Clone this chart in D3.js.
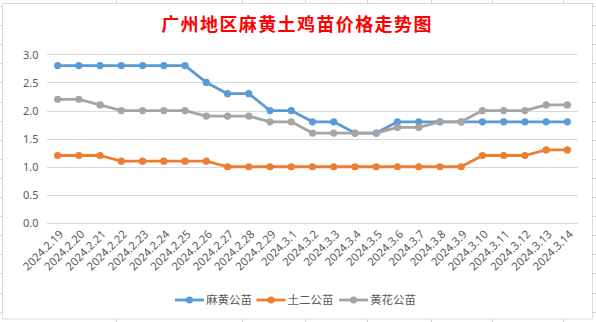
<!DOCTYPE html>
<html><head><meta charset="utf-8">
<script src="https://cdn.jsdelivr.net/npm/d3@7/dist/d3.min.js"></script>
<style>html,body{margin:0;padding:0;background:#fff;}svg{display:block;}</style>
</head><body><svg id="c" width="596" height="322"></svg>
<script>
const title = "广州地区麻黄土鸡苗价格走势图";
const dates = ["2024.2.19","2024.2.20","2024.2.21","2024.2.22","2024.2.23","2024.2.24","2024.2.25","2024.2.26","2024.2.27","2024.2.28","2024.2.29","2024.3.1","2024.3.2","2024.3.3","2024.3.4","2024.3.5","2024.3.6","2024.3.7","2024.3.8","2024.3.9","2024.3.10","2024.3.11","2024.3.12","2024.3.13","2024.3.14"];
const seriesNames = ["麻黄公苗","土二公苗","黄花公苗"];
const mahuang = [2.8,2.8,2.8,2.8,2.8,2.8,2.8,2.5,2.3,2.3,2.0,2.0,1.8,1.8,1.6,1.6,1.8,1.8,1.8,1.8,1.8,1.8,1.8,1.8,1.8];
const tuer = [1.2,1.2,1.2,1.1,1.1,1.1,1.1,1.1,1.0,1.0,1.0,1.0,1.0,1.0,1.0,1.0,1.0,1.0,1.0,1.0,1.2,1.2,1.2,1.3,1.3];
const huanghua = [2.2,2.2,2.1,2.0,2.0,2.0,2.0,1.9,1.9,1.9,1.8,1.8,1.6,1.6,1.6,1.6,1.7,1.7,1.8,1.8,2.0,2.0,2.0,2.1,2.1];
const yTicks = [0.0,0.5,1.0,1.5,2.0,2.5,3.0];
const colors = ["#5B9BD5","#ED7D31","#A5A5A5"];
const sheetCols = [116,241.5,305,366.5,430.5,492,563];

const svg = d3.select("#c");
const W = 596, H = 322;
const bg = svg.append("g");
const rowYs = d3.range(6, H, 19.1);
bg.selectAll("line.r").data(rowYs).join("line")
  .attr("x1",0).attr("x2",W).attr("y1",d=>Math.round(d)+0.5).attr("y2",d=>Math.round(d)+0.5)
  .attr("stroke","#d4d4d4");
bg.selectAll("line.c").data(sheetCols).join("line")
  .attr("y1",0).attr("y2",H).attr("x1",d=>Math.round(d)+0.5).attr("x2",d=>Math.round(d)+0.5)
  .attr("stroke","#d4d4d4");
svg.append("rect").attr("x",2.5).attr("y",3.5).attr("width",590).attr("height",315.5)
  .attr("fill","#fff").attr("stroke","#d9d9d9");

svg.append("text").attr("x",297).attr("y",31).attr("text-anchor","middle")
  .attr("font-family","'Noto Sans CJK SC'").attr("font-size",18).attr("font-weight","bold")
  .attr("letter-spacing",1.4).attr("fill","#ff0000").text(title);

const x = d3.scalePoint().domain(dates).range([47,578]).padding(0.5);
const y = d3.scaleLinear().domain([0,3]).range([223,54.3]);

svg.append("g").selectAll("line").data(yTicks).join("line")
  .attr("x1",47).attr("x2",578).attr("y1",d=>Math.round(y(d))+0.5).attr("y2",d=>Math.round(y(d))+0.5)
  .attr("stroke","#d9d9d9");

const yAxis = d3.axisLeft(y).tickValues(yTicks).tickFormat(d3.format(".1f")).tickSize(0).tickPadding(0);
const ya = svg.append("g").attr("transform","translate(38.5,0)").call(yAxis);
ya.select(".domain").remove();
ya.selectAll("text").attr("font-family","'Noto Sans'").attr("font-size",11).attr("fill","#595959").attr("dy","0.35em");

const xAxis = d3.axisBottom(x).tickSize(0).tickPadding(0);
const xa = svg.append("g").attr("transform","translate(0,223)").call(xAxis);
xa.select(".domain").remove();
xa.selectAll("text").attr("font-family","'Noto Sans'").attr("font-size",11.3).attr("fill","#595959")
  .attr("text-anchor","end").attr("dy",0)
  .attr("transform","translate(6,12) rotate(-45)");

const data = [mahuang, tuer, huanghua];
const line = d3.line().x((d,i)=>x(dates[i])).y(d=>y(d));
data.forEach((vals,k)=>{
  const g = svg.append("g");
  g.append("path").datum(vals).attr("d",line).attr("fill","none")
    .attr("stroke",colors[k]).attr("stroke-width",2.8).attr("stroke-linejoin","round");
  g.selectAll("circle").data(vals).join("circle")
    .attr("cx",(d,i)=>x(dates[i])).attr("cy",d=>y(d)).attr("r",3.6).attr("fill",colors[k]);
});

const legX = [175, 256.5, 339];
const lg = svg.append("g");
seriesNames.forEach((n,k)=>{
  const gx = legX[k];
  lg.append("line").attr("x1",gx).attr("x2",gx+29).attr("y1",300).attr("y2",300)
    .attr("stroke",colors[k]).attr("stroke-width",2.8);
  lg.append("circle").attr("cx",gx+14.5).attr("cy",300).attr("r",3.6).attr("fill",colors[k]);
  lg.append("text").attr("x",gx+31).attr("y",304).attr("font-family","'Noto Sans CJK SC'")
    .attr("font-size",11.5).attr("fill","#595959").text(n);
});
</script></body></html>
